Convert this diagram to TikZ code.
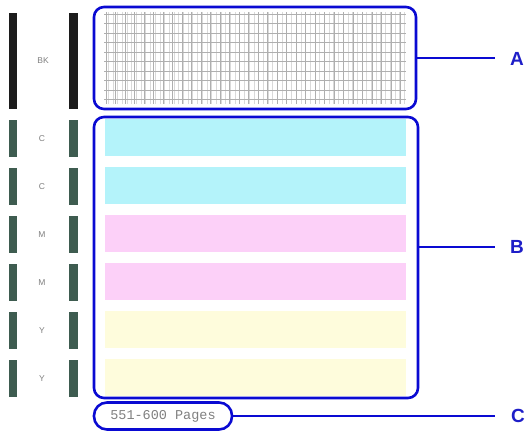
\documentclass[tikz,border=0pt]{standalone}
\usepackage{fontspec}
\setmainfont{Liberation Sans}
\newfontfamily\monof{Liberation Mono}
\definecolor{frameblue}{RGB}{10,10,210}
\definecolor{lblblue}{RGB}{30,30,200}
\definecolor{bkbar}{RGB}{28,28,28}
\definecolor{clrbar}{RGB}{62,92,80}
\definecolor{cyanst}{RGB}{180,243,250}
\definecolor{magst}{RGB}{252,208,248}
\definecolor{yelst}{RGB}{254,252,220}
\definecolor{gridlt}{RGB}{218,218,218}
\definecolor{griddk}{RGB}{175,175,175}
\tikzset{
  frame/.style={draw=frameblue, line width=2.6pt, rounded corners=10pt, inner sep=0pt},
  leader/.style={draw=frameblue, line width=2.2pt},
  letter/.style={text=lblblue, font=\fontsize{19}{19}\selectfont\bfseries, inner sep=0pt},
  tiny/.style={text=gray, font=\fontsize{8.5}{9}\selectfont, inner sep=0pt},
}
\begin{document}
\begin{tikzpicture}[x=1pt, y=-1pt]
\useasboundingbox (0,0) rectangle (528,434);
\fill[white] (0,0) rectangle (528,434);
% BK bars
\fill[bkbar] (9,13) rectangle (17,109);
\fill[bkbar] (69,13) rectangle (78,109);
\node[tiny] (bk) at (43,61) {BK};
% colour bars
\foreach \i/\l in {0/C,1/C,2/M,3/M,4/Y,5/Y}{
  \pgfmathsetmacro{\yt}{120+48*\i}
  \fill[clrbar] (9,\yt) rectangle (17,\yt+37);
  \fill[clrbar] (69,\yt) rectangle (78,\yt+37);
  \node[tiny] (lbl\i) at (42,\yt+19) {\l};
}
% grid
\begin{scope}
\clip (104,12) rectangle (406,104);
\draw[gridlt, line width=0.5pt] (104,12) grid[step=4.7] (406,104);
\foreach \x in {106,115.5,125,134.5,...,406} \draw[griddk, line width=0.6pt] (\x,12) -- (\x,104);
\foreach \y in {14,23.5,33,42.5,...,104} \draw[griddk, line width=0.5pt] (104,\y) -- (406,\y);
\end{scope}
% stripes
\fill[cyanst] (105,119) rectangle (406,156);
\fill[cyanst] (105,167) rectangle (406,204);
\fill[magst] (105,215) rectangle (406,252);
\fill[magst] (105,263) rectangle (406,300);
\fill[yelst] (105,311) rectangle (406,348);
\fill[yelst] (105,359) rectangle (406,396);
% frames
\node[frame, minimum width=322pt, minimum height=102pt] (boxA) at (255,58) {};
\node[frame, minimum width=324pt, minimum height=281pt] (boxB) at (256,257.5) {};
\node[frame, rounded corners=13pt, minimum width=138pt, minimum height=27pt, text=gray, font=\monof\fontsize{13.5}{13.5}\selectfont] (boxC) at (163,416) {551-600 Pages};
% letters
\node[letter] (A) at (517,59) {A};
\node[letter] (B) at (517,247) {B};
\node[letter] (C) at (518,416) {C};
\coordinate (aend) at (495,58);
\coordinate (bend) at (495,247);
\coordinate (cend) at (495,416);
\draw[leader] (boxA.east) -- (aend);
\draw[leader] (boxB.east |- bend) -- (bend);
\draw[leader] (boxC.east) -- (cend);
\end{tikzpicture}
\end{document}
